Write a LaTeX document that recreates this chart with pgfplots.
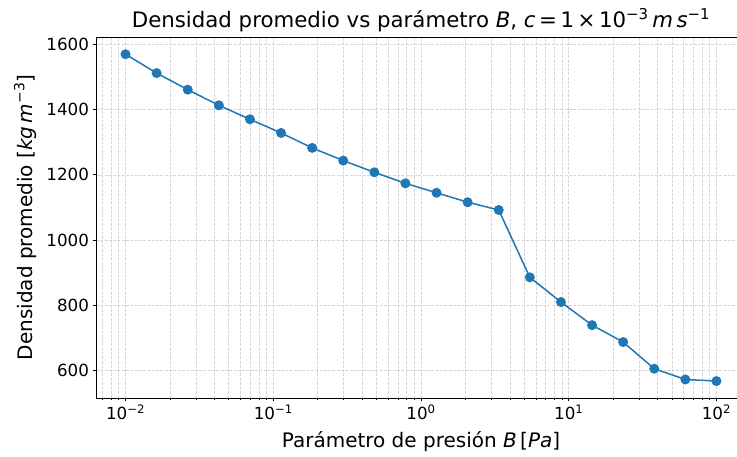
\documentclass[border=0pt]{standalone}
\usepackage{fontspec}
\setmainfont{DejaVu Sans}
\usepackage{pgfplots}
\pgfplotsset{compat=1.18}
\definecolor{mplblue}{HTML}{1F77B4}
\definecolor{gridgray}{HTML}{D5D5D5}
\begin{document}
\begin{tikzpicture}
\useasboundingbox (-96pt,-59pt) rectangle (641pt,398pt);
\begin{axis}[
  at={(0,0)}, anchor=south west,
  scale only axis, width=650pt, height=361pt,
  xmode=log, xmin=0.00631, xmax=158.5,
  ymin=514, ymax=1624,
  xtick={0.01,0.1,1,10,100},
  xticklabels={10\textsuperscript{−2},10\textsuperscript{−1},10\textsuperscript{0},10\textsuperscript{1},10\textsuperscript{2}},
  minor xtick={0.007,0.008,0.009,0.02,0.03,0.04,0.05,0.06,0.07,0.08,0.09,0.2,0.3,0.4,0.5,0.6,0.7,0.8,0.9,2,3,4,5,6,7,8,9,20,30,40,50,60,70,80,90},
  ytick={600,800,1000,1200,1400,1600},
  xmajorgrids, xminorgrids, ymajorgrids,
  major grid style={gridgray, dash pattern=on 3pt off 1.3pt, line width=0.7pt},
  minor grid style={gridgray, dash pattern=on 3pt off 1.3pt, line width=0.7pt},
  tick align=outside, xtick pos=bottom, ytick pos=left,
  major tick length=3.5pt, minor tick length=2pt,
  every tick/.style={black, line width=0.8pt},
  axis line style={black, line width=0.8pt},
  ticklabel style={font=\fontsize{16.7}{20}\selectfont},
  /pgf/number format/assume math mode=true,
  /pgf/number format/1000 sep={},
  title={Densidad promedio vs parámetro \textit{B}, \textit{c}\,=\,1\,×\,10\textsuperscript{−3}\,\textit{m}\,\textit{s}\textsuperscript{−1}},
  title style={font=\fontsize{21.3}{24}\selectfont, at={(axis description cs:0.5,1)}, anchor=center, yshift=11pt},
  xlabel={Parámetro de presión \textit{B}\,[\textit{Pa}]},
  ylabel={Densidad promedio [\textit{kg}\,\textit{m}\textsuperscript{−3}]},
  xlabel style={font=\fontsize{20}{23}\selectfont, at={(axis description cs:0.5,0)}, anchor=center, yshift=-44pt},
  ylabel style={font=\fontsize{20}{23}\selectfont, at={(axis description cs:-0.109,0.5)}, anchor=center},
]
\addplot[mplblue, line width=1.5pt, mark=*, mark size=4.2pt, mark options={solid, fill=mplblue, draw=mplblue}] coordinates {
(0.01,1571) (0.016238,1513) (0.026367,1462) (0.042813,1414) (0.069519,1371)
(0.11288,1329) (0.18330,1283) (0.29764,1244) (0.48329,1208) (0.78476,1174)
(1.27427,1145) (2.06914,1116) (3.35982,1092) (5.45559,885) (8.85867,809)
(14.3845,738) (23.3572,686) (37.9269,604) (61.5848,571) (100,566)
};
\end{axis}
\end{tikzpicture}
\end{document}
